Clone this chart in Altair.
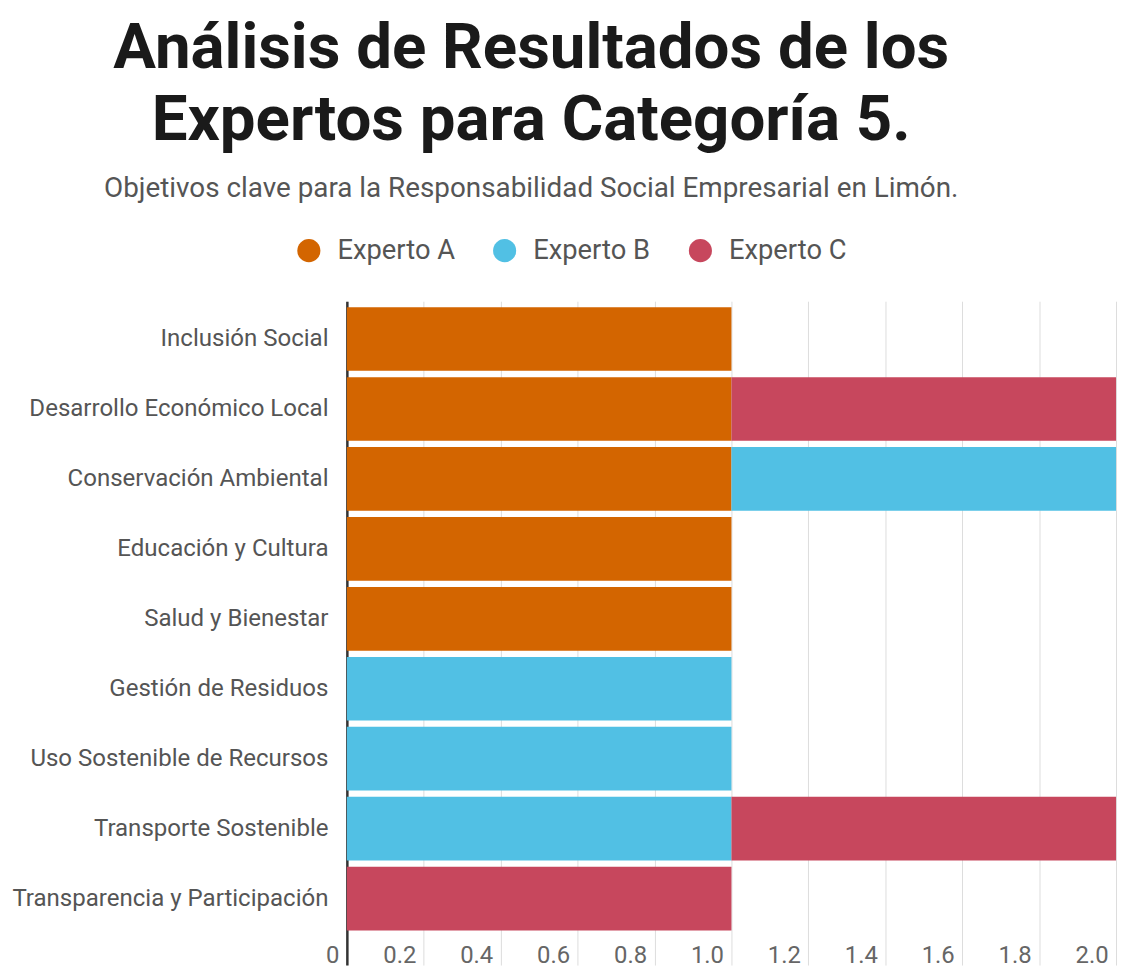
import altair as alt
import pandas as pd

categories = [
    "Inclusión Social",
    "Desarrollo Económico Local",
    "Conservación Ambiental",
    "Educación y Cultura",
    "Salud y Bienestar",
    "Gestión de Residuos",
    "Uso Sostenible de Recursos",
    "Transporte Sostenible",
    "Transparencia y Participación",
]
experts = ["Experto A", "Experto B", "Experto C"]
experto_a = [1, 1, 1, 1, 1, 0, 0, 0, 0]
experto_b = [0, 0, 1, 0, 0, 1, 1, 1, 0]
experto_c = [0, 1, 0, 0, 0, 0, 0, 1, 1]
colors = ["#D36500", "#51C0E4", "#C7475D"]
x_ticks = [0, 0.2, 0.4, 0.6, 0.8, 1.0, 1.2, 1.4, 1.6, 1.8, 2.0]

rows = []
for i, c in enumerate(categories):
    for e, vals in zip(experts, [experto_a, experto_b, experto_c]):
        if vals[i] > 0:
            rows.append({"categoria": c, "experto": e, "valor": vals[i], "orden": experts.index(e)})
df = pd.DataFrame(rows)

bars = alt.Chart(df).mark_bar(stroke=None).encode(
    y=alt.Y(
        "categoria:N",
        sort=categories,
        scale=alt.Scale(domain=categories, paddingInner=0.09, paddingOuter=0.29, align=0.147),
        axis=alt.Axis(
            title=None, ticks=False, grid=False, domain=True, domainColor="#333333",
            domainWidth=2.5, labelFont="Roboto", labelFontSize=24.2, labelColor="#555555",
            labelPadding=19, labelLimit=400, minExtent=341, maxExtent=341,
        ),
    ),
    x=alt.X(
        "valor:Q",
        stack="zero",
        scale=alt.Scale(domain=[0, 2], nice=False),
        axis=alt.Axis(
            title=None, values=x_ticks, ticks=False, domain=False, grid=True,
            gridColor="#dddddd", gridWidth=1, labelFont="Roboto", labelFontSize=24,
            labelColor="#666666", labelAlign="right", labelOffset=-8, labelPadding=0,
            offset=-22,
            labelExpr="datum.value == 0 ? '0' : format(datum.value, '.1f')",
        ),
    ),
    color=alt.Color(
        "experto:N",
        scale=alt.Scale(domain=experts, range=colors),
        legend=alt.Legend(
            title=None, orient="none", direction="horizontal", legendX=-52, legendY=-65,
            symbolType="circle", symbolSize=540, symbolStrokeWidth=0,
            labelFont="Roboto", labelFontSize=27.5, labelColor="#555555",
            columnPadding=36, labelOffset=15,
        ),
    ),
    order=alt.Order("orden:Q"),
)

chart = bars.properties(
    width=774,
    height=668,
    padding={"left": 0, "top": 6, "right": 4, "bottom": 10},
    title=alt.TitleParams(
        text=["Análisis de Resultados de los", "Expertos para Categoría 5."],
        subtitle="Objetivos clave para la Responsabilidad Social Empresarial en Limón.",
        anchor="middle", frame="bounds", dx=-31,
        font="Roboto", fontSize=64, fontWeight="bold", color="#1a1a1a", lineHeight=73,
        subtitleFont="Roboto", subtitleFontSize=28, subtitleColor="#555555",
        subtitlePadding=22, offset=34,
    ),
).configure_view(stroke=None)

chart.save("out.html", embed_options={"renderer": "svg", "actions": False})
